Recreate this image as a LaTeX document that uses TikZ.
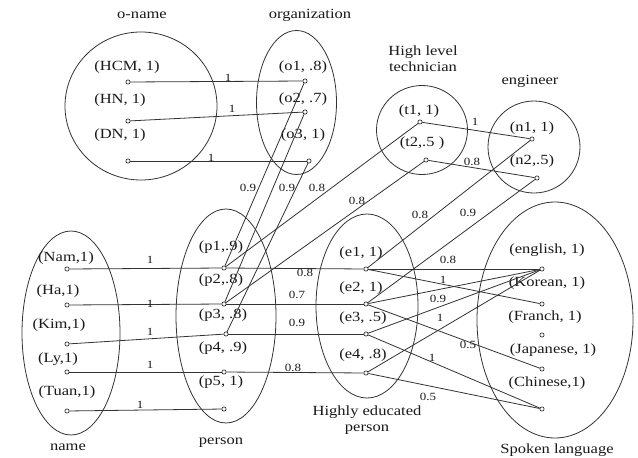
\documentclass[tikz,border=0pt]{standalone}
\usepackage{fontspec}
\setmainfont{Liberation Serif}[FakeStretch=1.18]
\tikzset{
  ln/.style={draw=black!80, line width=0.8pt},
  pt/.style={circle, draw=black!80, line width=0.7pt, fill=white, inner sep=0pt, minimum size=4.2pt},
  lbl/.style={font=\fontsize{14}{15}\selectfont, inner sep=0pt, text=black!90},
  wt/.style={font=\fontsize{11}{12}\selectfont, inner sep=0pt, text=black!90},
}
\begin{document}
\begin{tikzpicture}[x=1pt,y=-1pt]
\useasboundingbox (0,0) rectangle (638,458);
\fill[white] (0,0) rectangle (638,458);
% sets
\draw[ln] (141,106) ellipse [x radius=76pt, y radius=74pt];
\draw[ln] (296.5,102.5) ellipse [x radius=40pt, y radius=72pt];
\draw[ln] (422,130) ellipse [x radius=45.5pt, y radius=44.5pt];
\draw[ln] (534,147) ellipse [x radius=46pt, y radius=46pt];
\draw[ln] (71,333) ellipse [x radius=49pt, y radius=102pt];
\draw[ln] (226,316) ellipse [x radius=50pt, y radius=107pt];
\draw[ln] (367,306) ellipse [x radius=51pt, y radius=92pt];
\draw[ln] (555,320) ellipse [x radius=78pt, y radius=118pt];
% set titles
\node[lbl] (tOname) at (142,15) {o-name};
\node[lbl] (tOrg) at (310,15) {organization};
\node[lbl] (tHigh) at (423,52) {High level};
\node[lbl] (tTech) at (423,67) {technician};
\node[lbl] (tEng) at (530,81) {engineer};
\node[lbl] (tName) at (68,447) {name};
\node[lbl] (tPerson) at (221,443) {person};
\node[lbl] (tEdu1) at (367,412) {Highly educated};
\node[lbl] (tEdu2) at (367,430) {person};
\node[lbl] (tLang) at (557,450) {Spoken language};
% element labels
\node[lbl] at (127,67) {(HCM, 1)};
\node[lbl] at (120,100) {(HN, 1)};
\node[lbl] at (120,135) {(DN, 1)};
\node[lbl] at (303,67) {(o1, .8)};
\node[lbl] at (303,99) {(o2, .7)};
\node[lbl] at (303,135) {(o3, 1)};
\node[lbl] at (419,111) {(t1, 1)};
\node[lbl] at (422,143) {(t2,.5 )};
\node[lbl] at (532,128) {(n1, 1)};
\node[lbl] at (532,161) {(n2,.5)};
\node[lbl] at (66,258) {(Nam,1)};
\node[lbl] at (58,291) {(Ha,1)};
\node[lbl] at (59,325) {(Kim,1)};
\node[lbl] at (58,359) {(Ly,1)};
\node[lbl] at (67,392) {(Tuan,1)};
\node[lbl] at (221,247) {(p1,.9)};
\node[lbl] at (221,280) {(p2,.8)};
\node[lbl] at (223,315) {(p3, .8)};
\node[lbl] at (223,348) {(p4, .9)};
\node[lbl] at (221,382) {(p5, 1)};
\node[lbl] at (361,253) {(e1, 1)};
\node[lbl] at (361,288) {(e2, 1)};
\node[lbl] at (363,318) {(e3, .5)};
\node[lbl] at (363,355) {(e4, .8)};
\node[lbl] at (547,250) {(english, 1)};
\node[lbl] at (547,283) {(Korean, 1)};
\node[lbl] at (545,317) {(Franch, 1)};
\node[lbl] at (553,350) {(Japanese, 1)};
\node[lbl] at (547,383) {(Chinese,1)};
% points
\node[pt] (HCM) at (128,82) {};
\node[pt] (HN) at (128,121) {};
\node[pt] (DN) at (128,161) {};
\node[pt] (o1) at (305,81) {};
\node[pt] (o2) at (305,112) {};
\node[pt] (o3) at (309,161) {};
\node[pt] (t1) at (420,122) {};
\node[pt] (t2) at (426,160) {};
\node[pt] (n1) at (532,139) {};
\node[pt] (n2) at (537,178) {};
\node[pt] (Nam) at (67,269) {};
\node[pt] (Ha) at (67,305) {};
\node[pt] (Kim) at (67,344) {};
\node[pt] (Ly) at (67,372) {};
\node[pt] (Tuan) at (67,411) {};
\node[pt] (p1) at (224,268) {};
\node[pt] (p2) at (224,304) {};
\node[pt] (p3) at (226,334) {};
\node[pt] (p4) at (224,372) {};
\node[pt] (p5) at (224,409) {};
\node[pt] (e1) at (366,269) {};
\node[pt] (e2) at (366,304) {};
\node[pt] (e3) at (366,334) {};
\node[pt] (e4) at (366,373) {};
\node[pt] (eng) at (542,269) {};
\node[pt] (kor) at (542,304) {};
\node[pt] (fra) at (542,335) {};
\node[pt] (jap) at (542,369) {};
\node[pt] (chi) at (542,409) {};
% connectors
\draw[ln] (HCM) -- (o1);
\draw[ln] (HN) -- (o2);
\draw[ln] (DN) -- (o3);
\draw[ln] (o1) -- (p1);
\draw[ln] (o2) -- (p2);
\draw[ln] (o3) -- (p3);
\draw[ln] (p1) -- (t1);
\draw[ln] (p2) -- (t2);
\draw[ln] (t1) -- (n1);
\draw[ln] (t2) -- (n2);
\draw[ln] (e1) -- (n1);
\draw[ln] (e2) -- (n2);
\draw[ln] (Nam) -- (p1);
\draw[ln] (Ha) -- (p2);
\draw[ln] (Kim) -- (p3);
\draw[ln] (Ly) -- (p4);
\draw[ln] (Tuan) -- (p5);
\draw[ln] (p1) -- (e1);
\draw[ln] (p2) -- (e2);
\draw[ln] (p3) -- (e3);
\draw[ln] (p4) -- (e4);
\draw[ln] (e1) -- (eng);
\draw[ln] (e1) -- (kor);
\draw[ln] (e2) -- (eng);
\draw[ln] (e2) -- (jap);
\draw[ln] (e3) -- (eng);
\draw[ln] (e3) -- (chi);
\draw[ln] (e4) -- (eng);
\draw[ln] (e4) -- (chi);
% weights
\node[wt] at (228,78) {1};
\node[wt] at (232,109) {1};
\node[wt] at (211,158) {1};
\node[wt] at (248,188) {0.9};
\node[wt] at (287,188) {0.9};
\node[wt] at (317,188) {0.8};
\node[wt] at (357,201) {0.8};
\node[wt] at (420,215) {0.8};
\node[wt] at (468,213) {0.9};
\node[wt] at (475,122) {1};
\node[wt] at (472,162) {0.8};
\node[wt] at (150,260) {1};
\node[wt] at (150,304) {1};
\node[wt] at (150,332) {1};
\node[wt] at (150,365) {1};
\node[wt] at (140,405) {1};
\node[wt] at (305,273) {0.8};
\node[wt] at (297,295) {0.7};
\node[wt] at (297,323) {0.9};
\node[wt] at (293,368) {0.8};
\node[wt] at (448,260) {0.8};
\node[wt] at (443,280) {1};
\node[wt] at (438,299) {0.9};
\node[wt] at (440,318) {1};
\node[wt] at (468,345) {0.5};
\node[wt] at (432,358) {1};
\node[wt] at (428,397) {0.5};
\end{tikzpicture}
\end{document}
